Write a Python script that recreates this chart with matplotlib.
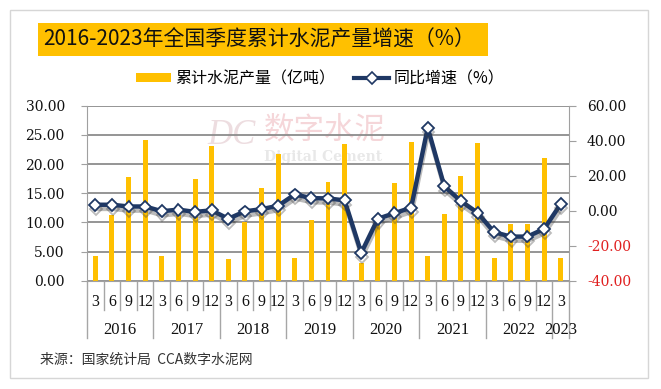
import numpy as np
import matplotlib
matplotlib.use('Agg')
import matplotlib.pyplot as plt
import matplotlib.patheffects as pe
import matplotlib.transforms as mtrans
from matplotlib.patches import Rectangle, Patch
from matplotlib.lines import Line2D
from matplotlib.ticker import FormatStrFormatter
from matplotlib.font_manager import FontProperties

# ---------------- data ----------------
years = ['2016', '2017', '2018', '2019', '2020', '2021', '2022', '2023']
quarters = ['3', '6', '9', '12'] * 7 + ['3']
output = [4.3, 11.2, 17.7, 24.1,
          4.3, 11.2, 17.5, 23.1,
          3.7, 10.0, 15.9, 21.8,
          3.9, 10.4, 16.9, 23.4,
          3.0, 9.9, 16.8, 23.7,
          4.3, 11.5, 17.9, 23.6,
          3.9, 9.7, 9.7, 21.1,
          3.9]
growth = [3.4, 3.4, 2.4, 2.4,
          -0.3, 0.6, -0.7, 0.2,
          -4.6, -0.4, 0.9, 2.8,
          9.3, 7.2, 7.0, 5.9,
          -24.1, -4.6, -1.4, 1.7,
          47.4, 13.9, 5.5, -1.2,
          -12.3, -14.8, -14.8, -10.4,
          3.8]
left_ticks = [0, 5, 10, 15, 20, 25, 30]
right_ticks = [-40, -20, 0, 20, 40, 60]
title = '2016-2023年全国季度累计水泥产量增速（%）'
bar_label = '累计水泥产量（亿吨）'
line_label = '同比增速（%）'
source = '来源：国家统计局  CCA数字水泥网'

# ---------------- style ----------------
W, H = 661, 389
ORANGE = '#FFC000'
NAVY = '#1F3864'
GRID = '#8C8C8C'
CJK = ['Noto Sans CJK SC', 'DejaVu Sans']

fig = plt.figure(figsize=(W / 100, H / 100), dpi=100)


def fx(px):
    return px / W


def fy(py):
    return 1 - py / H


# outer frame
fig.add_artist(Rectangle((fx(10), fy(378)), fx(648) - fx(10), (378 - 10) / H,
                         transform=fig.transFigure, fill=False,
                         edgecolor='#D6D6D6', lw=1.0))
# title box
fig.add_artist(Rectangle((fx(38), fy(56)), fx(488) - fx(38), (56 - 23) / H,
                         transform=fig.transFigure, facecolor=ORANGE,
                         edgecolor='none'))
fig.text(fx(43), fy(40), title, family=CJK, fontsize=15, color='#111111',
         ha='left', va='center')

top_px, bot_px, left_px, right_px = 105.7, 280.7, 87, 569
ax = fig.add_axes([fx(left_px), fy(bot_px), fx(right_px) - fx(left_px),
                   (bot_px - top_px) / H])
n = len(output)
x = np.arange(n)
ax.set_xlim(-0.5, n - 0.5)
ax.set_ylim(0, 30)
ax.bar(x, output, width=0.3, color=ORANGE, zorder=2)
ax.set_yticks(left_ticks)
ax.yaxis.set_major_formatter(FormatStrFormatter('%.2f'))
ax.grid(axis='y', color=GRID, lw=1.3)
ax.set_axisbelow(True)
ax.set_xticks([])
for s in ['top', 'right']:
    ax.spines[s].set_visible(False)
ax.spines['left'].set_color('#A0A0A0')
ax.spines['bottom'].set_color('#A0A0A0')
ax.tick_params(axis='y', length=4, color='#A0A0A0', pad=12,
               labelsize=10, labelcolor='#111111')
for lab in ax.get_yticklabels():
    lab.set_family('DejaVu Serif')

ax2 = ax.twinx()
ax2.set_ylim(-40, 60)
ax2.set_yticks(right_ticks)
ax2.yaxis.set_major_formatter(FormatStrFormatter('%.2f'))
for s in ['top', 'left', 'bottom']:
    ax2.spines[s].set_visible(False)
ax2.spines['right'].set_color('#A0A0A0')
ax2.tick_params(axis='y', length=5, color='#A0A0A0', pad=8, labelsize=10)
for lab, v in zip(ax2.get_yticklabels(), right_ticks):
    lab.set_family('DejaVu Serif')
    lab.set_color('#E02020' if v < 0 else '#111111')

ax2.plot(x, growth, color=NAVY, lw=3.2, marker='D', ms=6,
         mfc='white', mec=NAVY, mew=1.3, zorder=3,
         path_effects=[pe.SimpleLineShadow(offset=(0.5, -3), shadow_color='#404040',
                                           alpha=0.35),
                       pe.Normal()])

# watermark
ax.text(fx(207), fy(136), 'DC', transform=fig.transFigure,
        family='Liberation Serif', style='italic', fontsize=25,
        color='#EDDDE0', ha='left', va='center', zorder=0.3)
ax.text(fx(264), fy(130), '数字水泥', transform=fig.transFigure, family=CJK,
        fontsize=22, color='#F5D6D9', ha='left', va='center', zorder=0.3)
ax.text(fx(264), fy(157), 'Digital Cement', transform=fig.transFigure,
        family='DejaVu Serif', fontweight='bold', fontsize=10, color='#E8E8E8',
        ha='left', va='center', zorder=0.3)

# category axis (two levels)
trans = mtrans.blended_transform_factory(ax.transData, ax.transAxes)
ph = bot_px - top_px
q_y = -(302 - bot_px) / ph
y_y = -(330 - bot_px) / ph
short_end = -(310 - bot_px) / ph
long_end = -(338 - bot_px) / ph
sep_color = '#A6A6A6'
for i, q in enumerate(quarters):
    ax.text(i, q_y, q, transform=trans, ha='center', va='center',
            family='Liberation Serif', fontsize=11.5, color='#111111')
long_pos = set([4 * k - 0.5 for k in range(len(years))] + [n - 0.5])
for i in range(n + 1):
    xp = i - 0.5
    end = long_end if xp in long_pos else short_end
    ax.add_line(Line2D([xp, xp], [0, end], transform=trans, color=sep_color,
                       lw=1.0, clip_on=False))
for k, yr in enumerate(years):
    first = 4 * k
    last = min(4 * k + 3, n - 1)
    ax.text((first + last) / 2, y_y, yr, transform=trans, ha='center',
            va='center', family='Liberation Serif', fontsize=12,
            color='#111111')

# legend
handles = [Patch(facecolor=ORANGE, edgecolor='none'),
           Line2D([], [], color=NAVY, lw=3, marker='D', ms=6, mfc='white',
                  mec=NAVY, mew=1.2)]
fig.legend(handles, [bar_label, line_label], loc='center',
           bbox_to_anchor=(fx(320), fy(79)), ncol=2, frameon=False,
           prop=FontProperties(family=CJK, size=11.5), handlelength=2.2,
           handleheight=0.5, handletextpad=0.25, columnspacing=1.2)

# source
fig.text(fx(40), fy(360), source, family=CJK, fontsize=10, color='#333333',
         ha='left', va='center')

fig.savefig('out.png', dpi=100)
